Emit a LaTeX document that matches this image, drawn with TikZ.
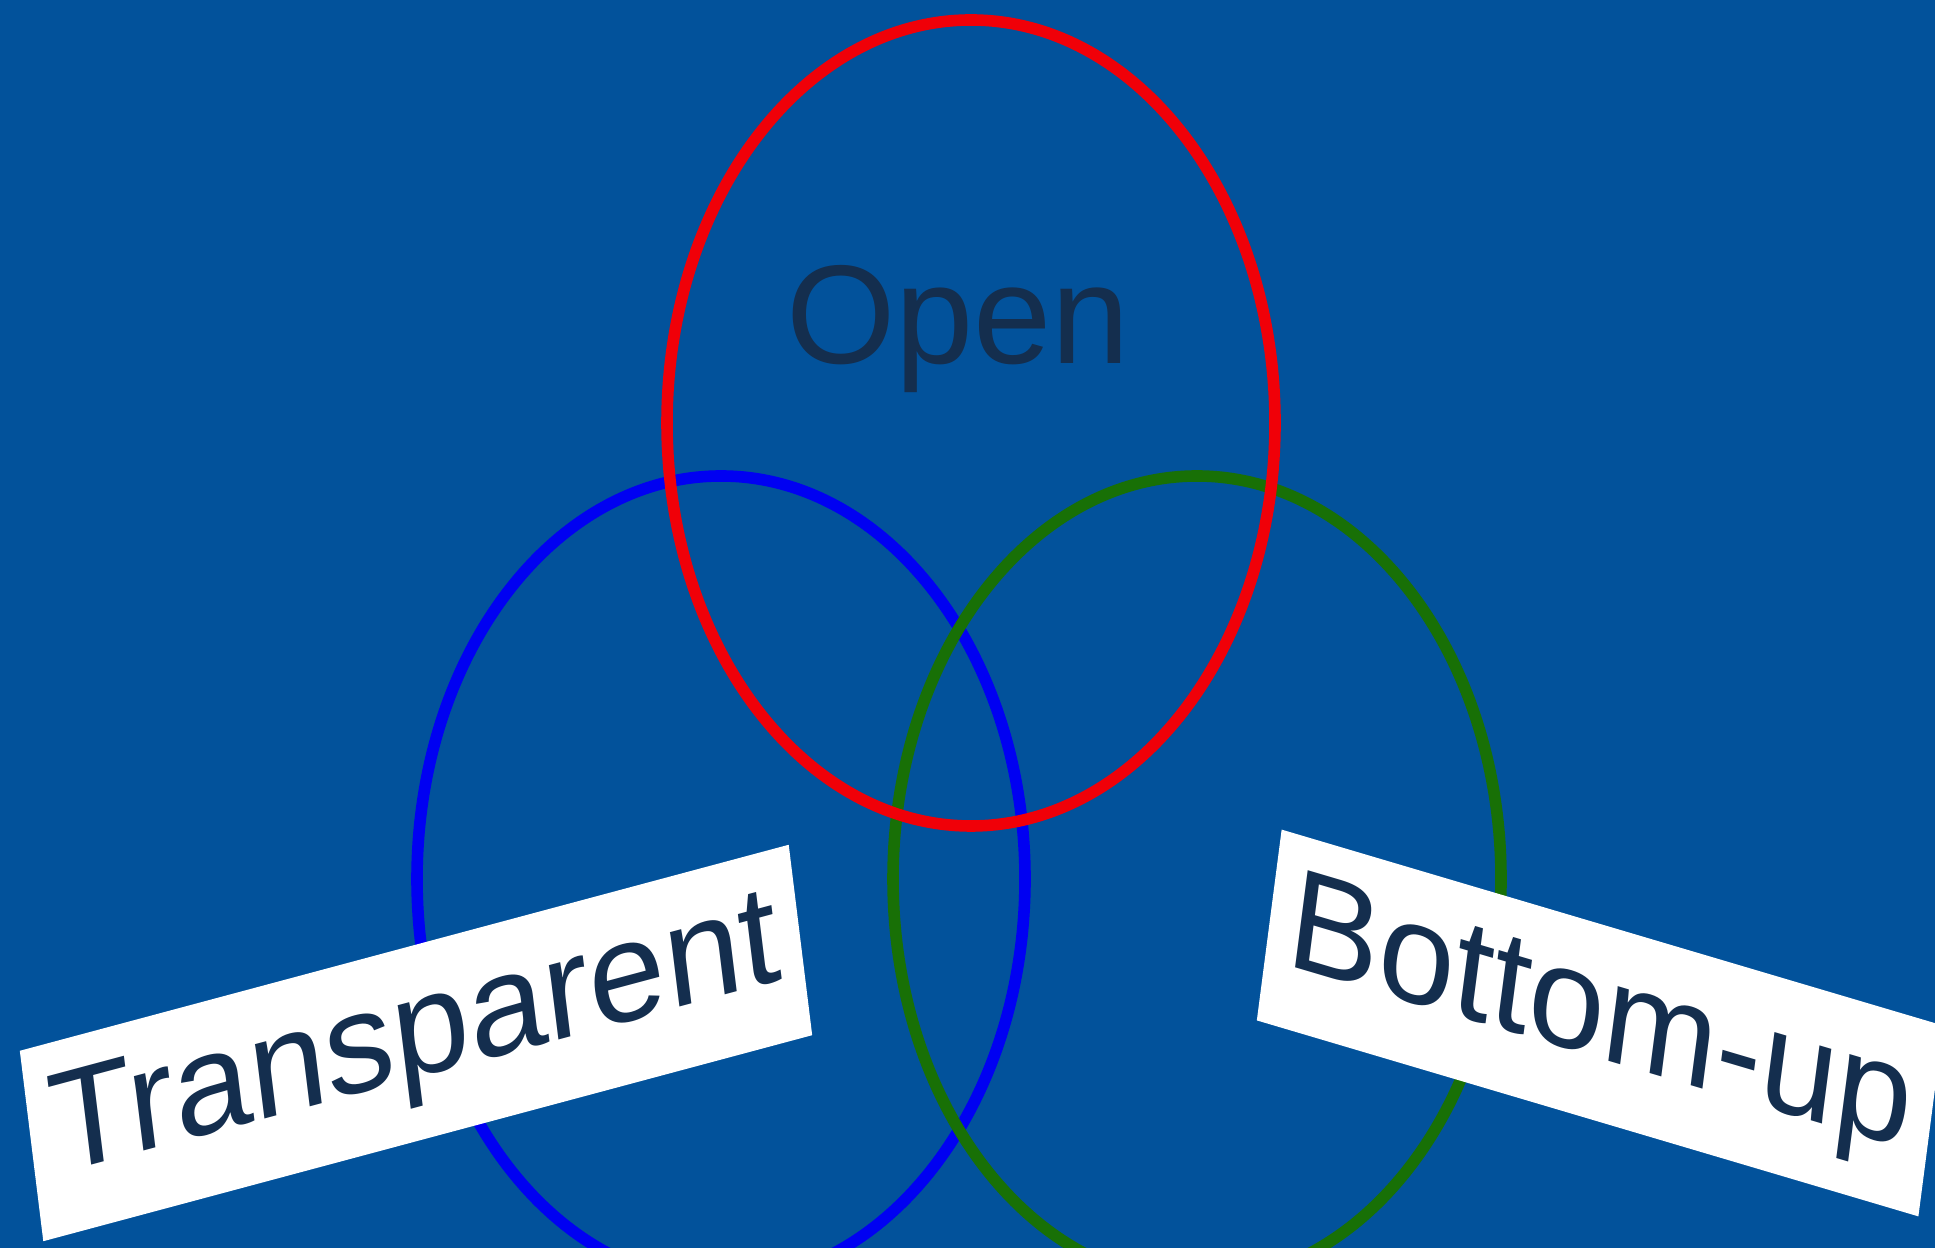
\documentclass[tikz,border=0pt]{standalone}
\usepackage{fontspec}
\setmainfont{Liberation Sans}
\definecolor{SlideBlue}{RGB}{2,82,155}
\definecolor{LabelInk} {RGB}{20,46,78}
\definecolor{RingRed}  {RGB}{240,0,8}
\definecolor{RingBlue} {RGB}{0,0,242}
\definecolor{RingGreen}{RGB}{24,112,6}
\usetikzlibrary{shapes.geometric}

\begin{document}
\begin{tikzpicture}[
    ring/.style={draw=#1,ellipse,line width=3.3pt,
                 minimum width=6.08cm,minimum height=8.06cm,inner sep=0pt},
    tag/.style={fill=white,text=LabelInk,inner sep=0pt,
                minimum height=1.9cm,font=\fontsize{40}{44}\selectfont}]
  \fill[SlideBlue] (0,0) rectangle (19.35,12.48);
  \useasboundingbox (0,0) rectangle (19.35,12.48);
  % the three circles
  \node[ring=RingBlue]  (transp) at (7.21,3.69) {};
  \node[ring=RingGreen] (bottom) at (11.97,3.69) {};
  \node[ring=RingRed]   (open)   at (9.71,8.25) {};
  \node[anchor=base,text=LabelInk,font=\fontsize{40}{44}\selectfont]
    (opentxt) at (9.58,8.84) {Open};
  % labels on white strips, a little slanted
  \node[tag,minimum width=7.96cm,rotate=15,xslant=0.14] (transptag)
    at (4.16,2.05) {Transparent};
  \node[tag,minimum width=6.9cm,rotate=-16.5,xslant=-0.16] (bottomtag)
    at (16.00,2.25) {Bottom-up};
\end{tikzpicture}
\end{document}
